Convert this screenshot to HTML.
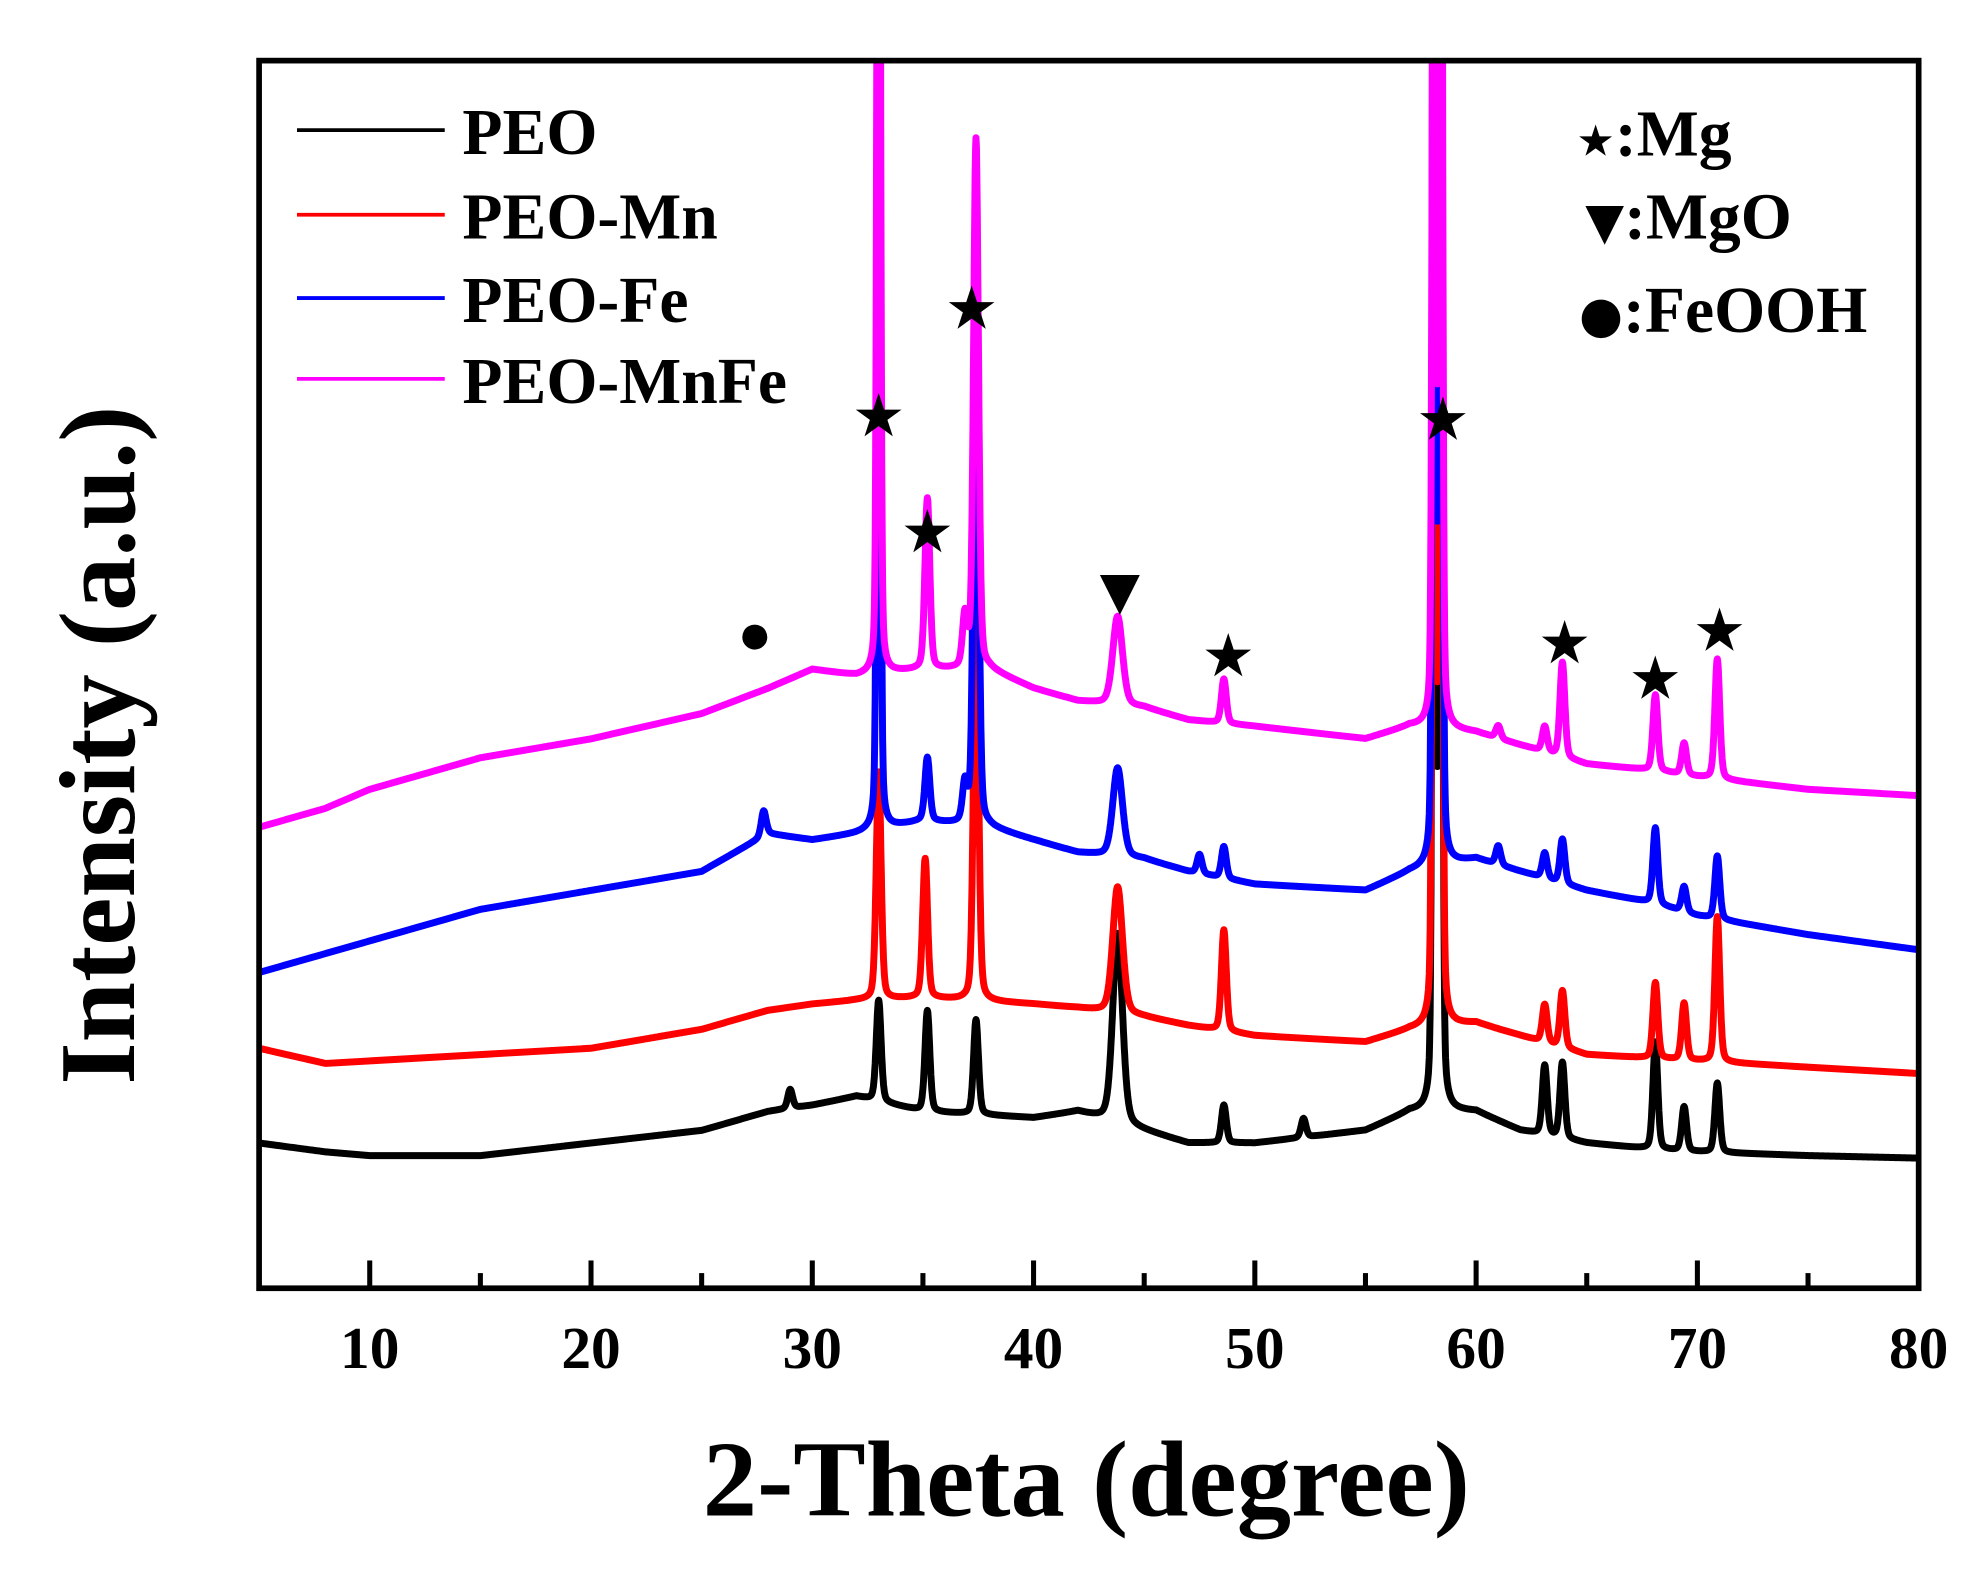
<!DOCTYPE html>
<html><head><meta charset="utf-8"><style>
html,body{margin:0;padding:0;background:#fff;}
svg{display:block;}
text{font-family:"Liberation Serif",serif;font-weight:bold;fill:#000;}
</style></head><body>
<svg id="chart" width="1982" height="1580" viewBox="0 0 1569 1251" xmlns="http://www.w3.org/2000/svg">
<defs><clipPath id="plotclip"><rect x="207" y="50" width="1310" height="968"/></clipPath></defs>
<g id="series" clip-path="url(#plotclip)"></g>
<rect x="205" y="48" width="1314" height="972" fill="none" stroke="#000" stroke-width="4.5"/>
<g id="ticks"></g>
<g id="ticklabels"></g>
<text x="860" y="1200" font-size="86" text-anchor="middle">2-Theta (degree)</text>
<text x="0" y="0" font-size="86" text-anchor="middle" transform="translate(106,590) rotate(-90)">Intensity (a.u.)</text>
<g>
<line x1="235" y1="103" x2="352" y2="103" stroke="#000" stroke-width="3"/>
<text x="366" y="122" font-size="52">PEO</text>
<line x1="235" y1="170" x2="352" y2="170" stroke="#f00" stroke-width="3"/>
<text x="366" y="189" font-size="52">PEO-Mn</text>
<line x1="235" y1="236" x2="352" y2="236" stroke="#00f" stroke-width="3"/>
<text x="366" y="255" font-size="52">PEO-Fe</text>
<line x1="235" y1="300" x2="352" y2="300" stroke="#f0f" stroke-width="3"/>
<text x="366" y="319" font-size="52">PEO-MnFe</text>
</g>
<g>
<text x="1248" y="123" font-size="52"><tspan font-family="DejaVu Sans" font-size="34">★</tspan>:Mg</text>
<text x="1255" y="189" font-size="52"><tspan font-family="DejaVu Sans" font-size="40">▼</tspan>:MgO</text>
<text x="1250" y="263" font-size="52"><tspan font-family="DejaVu Sans" font-size="40">●</tspan>:FeOOH</text>
</g>
<g id="markers"></g>
</svg>
<script>
// x-axis
const xTicks = [10,20,30,40,50,60,70,80];
const xMinorTicks = [15,25,35,45,55,65,75];
// baselines (2θ, intensity) per series
const baseX = [5,8,10,15,20,25,28,30,32,35,38,40,42,45,47,50,55,57,60,62,65,68,70,75,80];
const peoBase   = [115,108,105,105,115,125,140,145,152,140,137,135,140,125,115,115,125,140,140,125,115,110,108,105,103];
const peoMnBase = [190,178,180,185,190,205,220,225,228,230,227,225,222,215,208,200,195,205,210,200,185,182,180,175,170];
const peoFeBase = [250,265,275,300,315,330,360,355,360,370,365,355,345,340,330,320,315,330,340,330,315,305,295,280,268];
const peoMnFeBase=[365,380,395,420,435,455,475,490,485,490,490,475,465,460,450,445,435,445,440,430,415,410,405,395,390];
// peaks: positions, heights
const peoPeakPos = [29,33.0,35.2,37.4,43.8,48.6,52.2,58.1,58.4,63.1,63.9,68.1,69.4,70.9];
const peoPeakH   = [15,80,80,75,150,30,15,1100,1100,55,60,85,35,55];
const peoMnPeakPos = [33.0,35.1,37.4,43.8,48.6,58.1,58.4,63.1,63.9,68.1,69.4,70.9];
const peoMnPeakH   = [180,110,320,100,80,1100,1100,30,45,60,45,115];
const peoFePeakPos = [27.8,33.0,35.2,36.9,37.4,43.8,47.5,48.6,58.1,58.4,61,63.1,63.9,68.1,69.4,70.9];
const peoFePeakH   = [20,1100,50,30,450,70,15,25,1100,1100,15,20,35,60,20,50];
const peoMnFePeakPos = [33.0,35.2,36.9,37.4,43.8,48.6,58.1,58.4,61,63.1,63.9,68.1,69.4,70.9];
const peoMnFePeakH   = [1100,135,40,420,70,35,1100,1100,10,20,75,60,25,95];
// annotation markers (2θ, intensity)
const starX = [33.0,35.2,37.2,48.8,58.5,64.0,68.1,71.0];
const starY = [690,598,775,500,687,510,482,520];
const triX = [43.9], triY = [552];
const circX = [27.4], circY = [518];

const SVGNS="http://www.w3.org/2000/svg";
function xs(v){return 205+(v-5)*17.52;}
function ys(v){return 1020-v;}
function interp(bx,by,x){
  if(x<=bx[0])return by[0];
  for(let i=1;i<bx.length;i++){ if(x<=bx[i]){const t=(x-bx[i-1])/(bx[i]-bx[i-1]);return by[i-1]+t*(by[i]-by[i-1]);} }
  return by[by.length-1];
}
function shape(u,big){
  const lf = big?0.25:0.3;
  return (1-lf)*Math.exp(-0.693*u*u)+lf/(1+u*u);
}
function seriesPath(base,pos,h){
  let d="";
  for(let i=0;i<=3750;i++){
    const x=5+i*0.02;
    let v=interp(baseX,base,x);
    for(let k=0;k<pos.length;k++){
      const big=h[k]>500;
      const w=(pos[k]>43&&pos[k]<44.5)?0.26:(big?0.08:0.13);
      const u=(x-pos[k])/w; v+=h[k]*shape(u,big);
    }
    d+=(d?"L":"M")+xs(x).toFixed(1)+" "+ys(Math.min(v,1100)).toFixed(1);
  }
  return d;
}
const g=document.getElementById("series");
const defs=[[peoBase,peoPeakPos,peoPeakH,"#000","series-peo"],
 [peoMnBase,peoMnPeakPos,peoMnPeakH,"#f00","series-peo-mn"],
 [peoFeBase,peoFePeakPos,peoFePeakH,"#00f","series-peo-fe"],
 [peoMnFeBase,peoMnFePeakPos,peoMnFePeakH,"#f0f","series-peo-mnfe"]];
defs.forEach(s=>{
  const p=document.createElementNS(SVGNS,"path");
  p.setAttribute("d",seriesPath(s[0],s[1],s[2]));
  p.setAttribute("fill","none");p.setAttribute("stroke",s[3]);
  p.setAttribute("stroke-width","5.5");p.setAttribute("stroke-linejoin","round");
  
  
  g.appendChild(p);
});
const tg=document.getElementById("ticks"), tl=document.getElementById("ticklabels");
xTicks.forEach(t=>{
  const l=document.createElementNS(SVGNS,"line");
  l.setAttribute("x1",xs(t));l.setAttribute("x2",xs(t));l.setAttribute("y1",1020);l.setAttribute("y2",998);
  l.setAttribute("stroke","#000");l.setAttribute("stroke-width","4");
  
  
  tg.appendChild(l);
  const tx=document.createElementNS(SVGNS,"text");
  tx.setAttribute("x",xs(t));tx.setAttribute("y",1083);tx.setAttribute("font-size","47");tx.setAttribute("text-anchor","middle");
  tx.textContent=t;
  
  
  tl.appendChild(tx);
});
xMinorTicks.forEach(t=>{
  const l=document.createElementNS(SVGNS,"line");
  l.setAttribute("x1",xs(t));l.setAttribute("x2",xs(t));l.setAttribute("y1",1020);l.setAttribute("y2",1008);
  l.setAttribute("stroke","#000");l.setAttribute("stroke-width","4");
  
  
  tg.appendChild(l);
});
const mg=document.getElementById("markers");
function addMarker(ch,x,y,size,name){
  const t=document.createElementNS(SVGNS,"text");
  t.setAttribute("x",xs(x));t.setAttribute("y",ys(y));
  t.setAttribute("font-size",size);t.setAttribute("text-anchor","middle");
  t.setAttribute("dominant-baseline","central");t.setAttribute("font-family","DejaVu Sans");
  t.textContent=ch;
  
  
  mg.appendChild(t);
}
starX.forEach((x,i)=>addMarker("★",x,starY[i],42,"mg-star-marker"));
triX.forEach((x,i)=>addMarker("▼",x,triY[i],54,"mgo-triangle-marker"));
circX.forEach((x,i)=>addMarker("●",x,circY[i],46,"feooh-circle-marker"));
</script>
</body></html>
